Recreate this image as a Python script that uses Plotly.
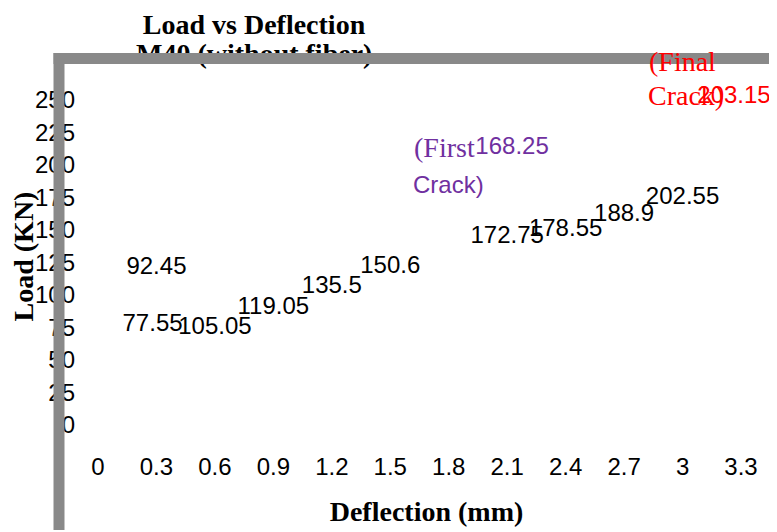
import plotly.graph_objects as go

# ---- data ----
deflection = [0.28, 0.30, 0.60, 0.90, 1.20, 1.50, 2.10, 2.40, 2.70, 3.00]
label_height = [76.9, 120.8, 74.6, 90.0, 106.2, 121.5, 144.6, 150.0, 161.5, 174.6]
load = [77.55, 92.45, 105.05, 119.05, 135.5, 150.6, 172.75, 178.55, 188.9, 202.55]

first_crack_deflection = [2.125]
first_crack_height = [213.1]
first_crack_load = [168.25]

final_crack_deflection = [3.264]
final_crack_height = [252.3]
final_crack_load = [203.15]

x_ticks = [0, 0.3, 0.6, 0.9, 1.2, 1.5, 1.8, 2.1, 2.4, 2.7, 3.0, 3.3]
x_tick_labels = ["0", "0.3", "0.6", "0.9", "1.2", "1.5", "1.8", "2.1", "2.4", "2.7", "3", "3.3"]
y_ticks = [0, 25, 50, 75, 100, 125, 150, 175, 200, 225, 250]
y_tick_labels = [str(v) for v in y_ticks]

title_line1 = "Load vs Deflection"
title_line2 = "M40 (without fiber)"
x_title = "Deflection (mm)"
y_title = "Load (KN)"

SANS = "Liberation Sans, Arial, sans-serif"
SERIF = "Liberation Serif, Times New Roman, serif"
PURPLE = "#7030A0"
RED = "#FF0000"
GRAY = "#898989"

# page offset of the figure (body margin) and figure size
OFF = 8
W, H = 777 - OFF, 532 - OFF
# plot area in page pixels
P_LEFT, P_TOP, P_BOTTOM, P_RIGHT = 76, 63, 450, 777
L = P_LEFT - OFF
T = P_TOP - OFF
B = H - (P_BOTTOM - OFF)
R = W - (P_RIGHT - OFF)
pw, ph = W - L - R, H - T - B

# axis scale (page pixels)
X0_PX, X_PER_UNIT = 98, 194.85
Y0_PX, Y_PER_UNIT = 425, 1.3


def fx(p):
    return (p - OFF - L) / pw


def fy(p):
    return (H - B - (p - OFF)) / ph


fig = go.Figure()

fig.add_trace(go.Scatter(
    x=deflection, y=label_height, mode="text",
    text=[f"{v:g}" for v in load], textposition="middle center",
    textfont=dict(family=SANS, size=24, color="black"),
    cliponaxis=False, hoverinfo="skip", showlegend=False))

fig.add_trace(go.Scatter(
    x=first_crack_deflection, y=first_crack_height, mode="text",
    text=[f"{v:g}" for v in first_crack_load], textposition="middle center",
    textfont=dict(family=SANS, size=24, color=PURPLE),
    cliponaxis=False, hoverinfo="skip", showlegend=False))

fig.add_trace(go.Scatter(
    x=final_crack_deflection, y=final_crack_height, mode="text",
    text=[f"{v:g}" for v in final_crack_load], textposition="middle center",
    textfont=dict(family=SANS, size=24, color=RED),
    cliponaxis=False, hoverinfo="skip", showlegend=False))

annotations = [
    # second title line (drawn before the frame so the frame covers it)
    dict(text="<b>" + title_line2 + "</b>", xref="paper", yref="paper",
         x=fx(254), y=fy(54), xanchor="center", yanchor="middle",
         showarrow=False, font=dict(family=SERIF, size=28, color="black")),
    # grey frame: vertical bar
    dict(text=" ", xref="paper", yref="paper", x=fx(59), y=fy(53),
         ax=0, ay=520, showarrow=True, arrowhead=0, arrowwidth=11,
         arrowcolor=GRAY, standoff=0, font=dict(size=1)),
    # grey frame: horizontal bar
    dict(text=" ", xref="paper", yref="paper", x=fx(53.5), y=fy(58.5),
         ax=760, ay=0, showarrow=True, arrowhead=0, arrowwidth=11,
         arrowcolor=GRAY, standoff=0, font=dict(size=1)),
    # crack labels
    dict(text="(First", xref="x", yref="y", x=first_crack_deflection[0], y=first_crack_height[0],
         xanchor="right", yanchor="middle", xshift=-35, yshift=0, showarrow=False,
         font=dict(family=SERIF, size=28, color=PURPLE)),
    dict(text="Crack)", xref="x", yref="y", x=first_crack_deflection[0], y=first_crack_height[0],
         xanchor="left", yanchor="middle", xshift=-101, yshift=-37, showarrow=False,
         font=dict(family=SANS, size=24, color=PURPLE)),
    dict(text="(Final", xref="x", yref="y", x=final_crack_deflection[0], y=final_crack_height[0],
         xanchor="center", yanchor="middle", xshift=-51, yshift=36, showarrow=False,
         font=dict(family=SERIF, size=28, color=RED)),
    dict(text="Crack)", xref="x", yref="y", x=final_crack_deflection[0], y=final_crack_height[0],
         xanchor="center", yanchor="middle", xshift=-48, yshift=2, showarrow=False,
         font=dict(family=SERIF, size=28, color=RED)),
]

fig.update_layout(
    width=W, height=H,
    margin=dict(l=L, r=R, t=T, b=B, pad=0),
    paper_bgcolor="white", plot_bgcolor="white",
    showlegend=False,
    title=dict(text="<b>" + title_line1 + "</b>", x=(254 - OFF) / W, xanchor="center",
               xref="container", y=1 - 16 / H, yanchor="middle", yref="container",
               font=dict(family=SERIF, size=28, color="black")),
    annotations=annotations,
    xaxis=dict(range=[(P_LEFT - X0_PX) / X_PER_UNIT, (P_RIGHT - X0_PX) / X_PER_UNIT],
               tickmode="array", tickvals=x_ticks, ticktext=x_tick_labels,
               showgrid=False, zeroline=False, showline=False, ticks="",
               tickfont=dict(family=SANS, size=24, color="black"),
               title=dict(text="<b>" + x_title + "</b>", standoff=22,
                          font=dict(family=SERIF, size=28, color="black"))),
    yaxis=dict(range=[(Y0_PX - P_BOTTOM) / Y_PER_UNIT, (Y0_PX - P_TOP) / Y_PER_UNIT],
               tickmode="array", tickvals=y_ticks, ticktext=y_tick_labels,
               showgrid=False, zeroline=False, showline=False, ticks="",
               tickfont=dict(family=SANS, size=24, color="black"),
               title=dict(text="<b>" + y_title + "</b>", standoff=0,
                          font=dict(family=SERIF, size=28, color="black"))),
)

fig.write_html("out.html")
